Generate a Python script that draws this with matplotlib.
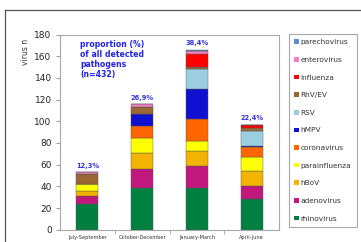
import matplotlib
matplotlib.use("Agg")
import matplotlib.pyplot as plt
from matplotlib.lines import Line2D
from matplotlib.patches import Patch
import numpy as np

periods = ["July-September", "October-December", "January-March", "April-June"]
percent_labels = ["12,3%", "26,9%", "38,4%", "22,4%"]
pathogens = ["rhinovirus", "adenovirus", "hBoV", "parainfluenza", "coronavirus",
             "hMPV", "RSV", "RhV/EV", "influenza", "enterovirus", "parechovirus"]
rhinovirus    = [24, 38, 38, 28]
adenovirus    = [7, 18, 21, 12]
hbov          = [5, 15, 14, 14]
parainfluenza = [6, 14, 9, 13]
coronavirus   = [0, 11, 20, 9]
hmpv          = [0, 11, 28, 1]
rsv           = [0, 0, 18, 14]
rhv_ev        = [9, 6, 2, 3]
influenza     = [0, 0, 12, 3]
enterovirus   = [2, 3, 3, 0]
parechovirus  = [0, 0, 1, 0]
series = [rhinovirus, adenovirus, hbov, parainfluenza, coronavirus, hmpv, rsv,
          rhv_ev, influenza, enterovirus, parechovirus]
colors = ["#008040", "#C0187C", "#F2B400", "#FFFF00", "#FF6600", "#1010D0",
          "#9BCFE0", "#9A6633", "#FF0000", "#F080C0", "#5B8FD0"]

fig = plt.figure(figsize=(3.61, 2.42), dpi=100)
ax = fig.add_axes([60/361, 1-229.7/242, 219/361, 195.2/242])

x = np.arange(len(periods))
bottom = np.zeros(len(periods))
for vals, col, name in zip(series, colors, pathogens):
    ax.bar(x, vals, 0.4, bottom=bottom, color=col, edgecolor="#555555",
           linewidth=0.3, label=name)
    bottom += np.array(vals)

for xi, tot, lab in zip(x, bottom, percent_labels):
    ax.text(xi, tot + 3, lab, ha="center", va="bottom", fontsize=4.8,
            fontweight="bold", color="#3333DD")

ax.set_xlim(-0.5, 3.5)
ax.set_ylim(0, 180)
ax.set_yticks(range(0, 181, 20))
ax.set_xticks(x)
ax.set_xticklabels(periods, fontsize=3.6, color="#333333")
ax.set_xticks([0.5, 1.5, 2.5], minor=True)
ax.tick_params(axis="x", which="major", length=0, pad=4)
ax.tick_params(axis="x", which="minor", length=3, color="#A0A0A0")
ax.tick_params(axis="y", length=3, color="#A0A0A0", labelsize=6.5, pad=3,
               labelcolor="#222222")
for s in ax.spines.values():
    s.set_color("#A8A8A8")
    s.set_linewidth(0.8)

ax.text(20/219, 0.972, "proportion (%)\nof all detected\npathogens\n(n=432)",
        transform=ax.transAxes, ha="left", va="top", fontsize=5.6,
        fontweight="bold", color="#2222EE", linespacing=1.15)

fig.text(25/361, 1-52/242, "virus n", rotation=90, ha="center", va="center",
         fontsize=5.5, color="#333333")

handles = [Patch(facecolor=c, edgecolor="none") for c in colors][::-1]
labels = pathogens[::-1]
leg = fig.legend(handles, labels, loc="upper left",
                 bbox_to_anchor=(289/361, 1-34/242), borderaxespad=0,
                 fontsize=5.3, handlelength=0.6, handleheight=0.6,
                 handletextpad=0.25, labelspacing=1.58, borderpad=0.72,
                 fancybox=False, framealpha=1, edgecolor="#A8A8A8")
leg.get_frame().set_linewidth(0.8)
for t in leg.get_texts():
    t.set_color("#333333")

fig.add_artist(Line2D([5/361, 1], [1-10/242, 1-10/242], color="#555555", lw=0.9))
fig.add_artist(Line2D([5/361, 5/361], [0, 1-10/242], color="#555555", lw=0.9))

fig.savefig("out.png", dpi=100)
